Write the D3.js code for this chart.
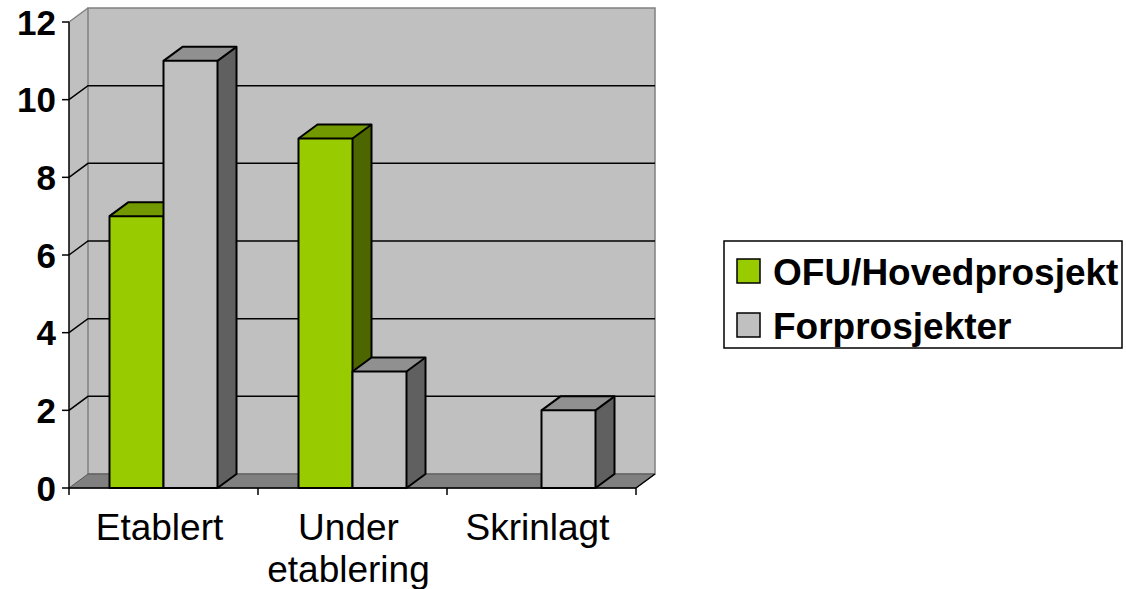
<!DOCTYPE html>
<html>
<head>
<meta charset="utf-8">
<script src="https://cdn.jsdelivr.net/npm/d3@7"></script>
<style>
  body { margin: 0; background: #fff; }
  svg { display: block; font-family: Arial, "Liberation Sans", sans-serif; }
</style>
</head>
<body>
<div id="chart"></div>
<script>
// data
const categories = [["Etablert"], ["Under", "etablering"], ["Skrinlagt"]];
const seriesNames = ["OFU/Hovedprosjekt", "Forprosjekter"];
const hovedValues = [7, 9, 0];
const forValues = [11, 3, 2];
const yTicks = [0, 2, 4, 6, 8, 10, 12];

// colours per series: front, top, side
const colours = [
  { front: "#99cc00", top: "#739900", side: "#4d6600" },
  { front: "#c0c0c0", top: "#909090", side: "#606060" }
];

const W = 1126, H = 589;
const plotLeft = 69, plotRight = 636, plotBottom = 488, plotTop = 22;
const dx = 19, dy = -14; // depth of the 3d box

const svg = d3.select("#chart").append("svg")
  .attr("width", W).attr("height", H);

const catKeys = categories.map(d => d.join(" "));

const x0 = d3.scaleBand().domain(catKeys).range([plotLeft, plotRight]).padding(0);
const x1 = d3.scaleBand().domain(seriesNames).range([0, x0.bandwidth()])
  .paddingInner(0).paddingOuter(0.75);
const y = d3.scaleLinear().domain([0, 12]).range([plotBottom, plotTop]);

const pts = a => a.map(p => p.join(",")).join(" ");

// walls
svg.append("polygon")
  .attr("points", pts([[plotLeft, y(12)], [plotLeft + dx, y(12) + dy], [plotLeft + dx, y(0) + dy], [plotLeft, y(0)]]))
  .attr("fill", "#c0c0c0");
svg.append("rect")
  .attr("x", plotLeft + dx).attr("y", y(12) + dy)
  .attr("width", plotRight - plotLeft).attr("height", y(0) - y(12))
  .attr("fill", "#c0c0c0").attr("stroke", "#808080").attr("stroke-width", 1.5);
svg.append("line")
  .attr("x1", plotLeft).attr("y1", y(12)).attr("x2", plotLeft + dx).attr("y2", y(12) + dy)
  .attr("stroke", "#808080").attr("stroke-width", 1.5);

// gridlines
svg.append("g").selectAll("polyline")
  .data(yTicks.filter(d => d > 0 && d < 12))
  .join("polyline")
  .attr("points", d => pts([[plotLeft, y(d)], [plotLeft + dx, y(d) + dy], [plotRight + dx, y(d) + dy]]))
  .attr("fill", "none").attr("stroke", "#000").attr("stroke-width", 1.5);

// floor
svg.append("polygon")
  .attr("points", pts([[plotLeft, y(0)], [plotRight, y(0)], [plotRight + dx, y(0) + dy], [plotLeft + dx, y(0) + dy]]))
  .attr("fill", "#808080").attr("stroke", "#555").attr("stroke-width", 1);

// bars
const rows = [];
catKeys.forEach((c, i) => {
  rows.push({ cat: c, s: 0, v: hovedValues[i] });
  rows.push({ cat: c, s: 1, v: forValues[i] });
});

const bars = svg.append("g").selectAll("g")
  .data(rows.filter(d => d.v > 0))
  .join("g");

bars.each(function (d) {
  const g = d3.select(this);
  const xa = x0(d.cat) + x1(seriesNames[d.s]);
  const xb = xa + x1.bandwidth();
  const yt = y(d.v), yb = y(0);
  const c = colours[d.s];
  g.append("polygon")
    .attr("points", pts([[xb, yt], [xb + dx, yt + dy], [xb + dx, yb + dy], [xb, yb]]))
    .attr("fill", c.side);
  g.append("polygon")
    .attr("points", pts([[xa, yt], [xa + dx, yt + dy], [xb + dx, yt + dy], [xb, yt]]))
    .attr("fill", c.top);
  g.append("rect")
    .attr("x", xa).attr("y", yt).attr("width", xb - xa).attr("height", yb - yt)
    .attr("fill", c.front);
  g.append("polygon")
    .attr("points", pts([[xa, yb], [xa, yt], [xa + dx, yt + dy], [xb + dx, yt + dy], [xb + dx, yb + dy], [xb, yb]]))
    .attr("fill", "none").attr("stroke", "#000").attr("stroke-width", 2).attr("stroke-linejoin", "round");
  g.append("polyline")
    .attr("points", pts([[xb, yb], [xb, yt], [xa, yt]]))
    .attr("fill", "none").attr("stroke", "#000").attr("stroke-width", 2);
  g.append("line")
    .attr("x1", xb).attr("y1", yt).attr("x2", xb + dx).attr("y2", yt + dy)
    .attr("stroke", "#000").attr("stroke-width", 2);
});

// y axis
const yAxis = svg.append("g");
yAxis.append("line")
  .attr("x1", plotLeft).attr("x2", plotLeft).attr("y1", y(12)).attr("y2", y(0))
  .attr("stroke", "#000").attr("stroke-width", 1.5);
yAxis.selectAll(".tick").data(yTicks).join("line")
  .attr("x1", plotLeft - 7).attr("x2", plotLeft).attr("y1", d => y(d)).attr("y2", d => y(d))
  .attr("stroke", "#000").attr("stroke-width", 1.5);
yAxis.selectAll("text").data(yTicks).join("text")
  .attr("x", 56).attr("y", d => y(d)).attr("dy", "0.36em")
  .attr("text-anchor", "end")
  .attr("font-size", 35).attr("font-weight", "bold")
  .text(d => d);

// x axis
const xAxis = svg.append("g");
xAxis.append("line")
  .attr("x1", plotLeft).attr("x2", plotRight).attr("y1", y(0)).attr("y2", y(0))
  .attr("stroke", "#000").attr("stroke-width", 1.5);
xAxis.append("line")
  .attr("x1", plotRight).attr("y1", y(0)).attr("x2", plotRight + dx).attr("y2", y(0) + dy)
  .attr("stroke", "#000").attr("stroke-width", 1.5);
xAxis.selectAll(".tick").data(catKeys.map(c => x0(c)).concat([plotRight])).join("line")
  .attr("x1", d => d).attr("x2", d => d).attr("y1", y(0)).attr("y2", y(0) + 7)
  .attr("stroke", "#000").attr("stroke-width", 1.5);
const labels = xAxis.selectAll("text").data(categories).join("text")
  .attr("x", (d, i) => x0(catKeys[i]) + x0.bandwidth() / 2 - 4)
  .attr("y", 540)
  .attr("text-anchor", "middle")
  .attr("font-size", 37);
labels.selectAll("tspan").data(d => d).join("tspan")
  .attr("x", function () { return this.parentNode.getAttribute("x"); })
  .attr("dy", (d, i) => i === 0 ? 0 : 42)
  .text(d => d);

// legend
const legend = svg.append("g");
legend.append("rect")
  .attr("x", 724).attr("y", 241).attr("width", 398).attr("height", 107)
  .attr("fill", "#fff").attr("stroke", "#000").attr("stroke-width", 1.5);
const items = legend.selectAll("g").data(seriesNames).join("g")
  .attr("transform", (d, i) => `translate(737,${259 + i * 54})`);
items.append("rect")
  .attr("width", 23).attr("height", 24)
  .attr("fill", (d, i) => colours[i].front)
  .attr("stroke", "#000").attr("stroke-width", 1.5);
items.append("text")
  .attr("x", 36).attr("y", 26)
  .attr("font-size", 37).attr("font-weight", "bold")
  .text(d => d);
</script>
</body>
</html>
